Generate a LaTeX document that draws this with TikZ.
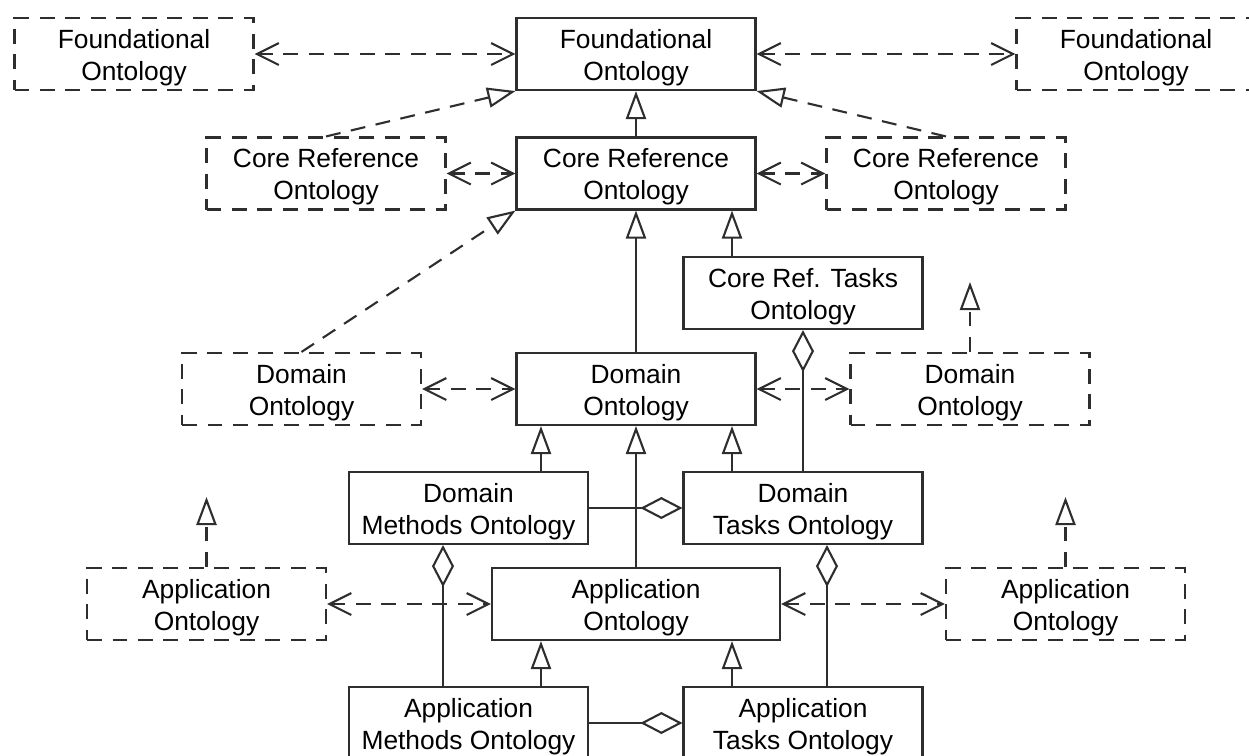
\documentclass[tikz,border=0pt]{standalone}
\usepackage{fontspec}
\setmainfont{Liberation Sans}
\usetikzlibrary{arrows.meta}
\begin{document}
\begin{tikzpicture}[x=0.02cm, y=-0.02cm,
  lin/.style={draw=black!82, line width=1.2pt},
  onto/.style={lin, rectangle, fill=white, minimum width=4.78cm, minimum height=1.44cm,
    inner sep=0pt, align=center, font=\fontsize{15}{18.1}\selectfont,
    text height=1.15cm, text depth=0.11cm},
  ext/.style={onto, dash pattern=on 8.5pt off 6pt},
  wide/.style={minimum width=5.76cm},
  dep/.style={lin, dash pattern=on 8.5pt off 6pt,
    {Straight Barb[length=12.5pt, width=12.5pt]}-{Straight Barb[length=12.5pt, width=12.5pt]}},
  gen/.style={lin, -{Triangle[open, length=16pt, width=11.5pt]}},
  real/.style={gen, dash pattern=on 8.5pt off 6pt},
  agg/.style={lin, -{Diamond[open, length=24pt, width=12.5pt]}},
]
\useasboundingbox (0,0) rectangle (1249,755);
\clip (0,0) rectangle (1249,755);

% ontology boxes
\node[ext]  (foL) at (134,54)    {Foundational\\Ontology};
\node[onto] (fo)  at (636,54)    {Foundational\\Ontology};
\node[ext]  (foR) at (1136,54)   {Foundational\\Ontology};
\node[ext]  (crL) at (326,173.5) {Core Reference\\Ontology};
\node[onto] (cr)  at (636,173.5) {Core Reference\\Ontology};
\node[ext]  (crR) at (946,173.5) {Core Reference\\Ontology};
\node[onto] (crt) at (803,293)   {Core Ref. Tasks\\Ontology};
\node[ext]  (doL) at (301.5,389) {Domain\\Ontology};
\node[onto] (do)  at (636,389)   {Domain\\Ontology};
\node[ext]  (doR) at (970,389)   {Domain\\Ontology};
\node[onto] (dm)  at (468.5,508) {Domain\\Methods Ontology};
\node[onto] (dt)  at (803,508)   {Domain\\Tasks Ontology};
\node[ext]  (apL) at (206.5,604) {Application\\Ontology};
\node[onto,wide] (ap) at (636,604) {Application\\Ontology};
\node[ext]  (apR) at (1065.5,604) {Application\\Ontology};
\node[onto] (am)  at (468.5,723) {Application\\Methods Ontology};
\node[onto] (atk) at (803,723)   {Application\\Tasks Ontology};

% free ends of the outward generalisations
\coordinate (doRup) at (970,282);
\coordinate (apLup) at (206.5,497);
\coordinate (apRup) at (1065.5,497);

% mutual dependencies
\draw[dep] (foL) -- (fo);
\draw[dep] (fo) -- (foR);
\draw[dep] (crL) -- (cr);
\draw[dep] (cr) -- (crR);
\draw[dep] (doL) -- (do);
\draw[dep] (do) -- (doR);
\draw[dep] (apL) -- (ap);
\draw[dep] (ap) -- (apR);

% specialisation
\draw[gen] (cr.north) -- (fo.south);
\draw[gen] (do.north) -- (cr.south);
\draw[gen] ([xshift=-1.42cm]crt.north) -- ([xshift=-1.42cm]crt.north |- cr.south);
\draw[gen] ([xshift=1.45cm]dm.north) -- ([xshift=1.45cm]dm.north |- do.south);
\draw[gen] ([xshift=-1.42cm]dt.north) -- ([xshift=-1.42cm]dt.north |- do.south);
\draw[gen] (ap.north) -- (do.south);
\draw[gen] ([xshift=1.45cm]am.north) -- ([xshift=1.45cm]am.north |- ap.south);
\draw[gen] ([xshift=-1.42cm]atk.north) -- ([xshift=-1.42cm]atk.north |- ap.south);

% specialisation of external ontologies
\draw[real] (crL.north) -- (fo.south west);
\draw[real] (crR.north) -- (fo.south east);
\draw[real] (doL.north) -- (cr.south west);
\draw[real] (doR.north) -- (doRup);
\draw[real] (apL.north) -- (apLup);
\draw[real] (apR.north) -- (apRup);

% aggregation
\draw[agg] (dm) -- (dt);
\draw[agg] (am) -- (atk);
\draw[agg] (dt.north) -- (dt.north |- crt.south);
\draw[agg] ([xshift=-0.51cm]am.north) -- ([xshift=-0.51cm]am.north |- dm.south);
\draw[agg] ([xshift=0.48cm]atk.north) -- ([xshift=0.48cm]atk.north |- dt.south);
\end{tikzpicture}
\end{document}
